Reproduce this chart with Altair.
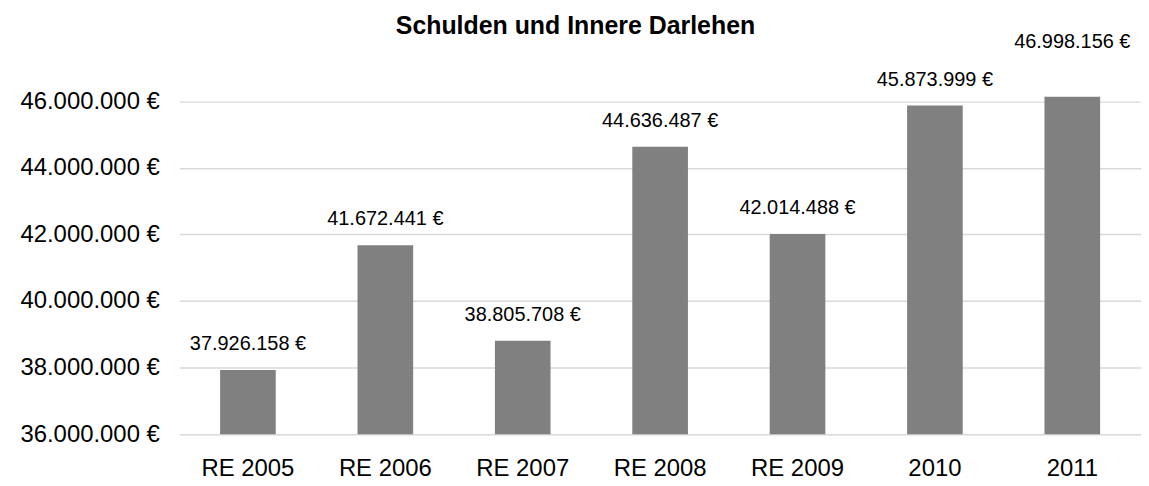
import altair as alt
import pandas as pd

categories = ["RE 2005", "RE 2006", "RE 2007", "RE 2008", "RE 2009", "2010", "2011"]
values = [37926158, 41672441, 38805708, 44636487, 42014488, 45873999, 46998156]
y_ticks = [36000000, 38000000, 40000000, 42000000, 44000000, 46000000]

df = pd.DataFrame({"cat": categories, "val": values})

FONT = "Liberation Sans"

x = alt.X("cat:N", sort=categories, title=None,
          scale=alt.Scale(paddingInner=0.595, paddingOuter=0.2975),
          axis=alt.Axis(labelAngle=0, ticks=False, domain=False, labelFontSize=24,
                        labelFont=FONT, labelColor="#000000", labelPadding=23))
y = alt.Y("val:Q", title=None,
          scale=alt.Scale(domain=[36000000, 46140000], nice=False, zero=False),
          axis=alt.Axis(values=y_ticks, ticks=False, domain=False, labelFontSize=24,
                        labelFont=FONT, labelColor="#000000", labelPadding=20,
                        gridColor="#d9d9d9", gridWidth=1.5,
                        labelExpr="replace(replace(format(datum.value, ',.0f'), ',', '.'), ',', '.') + ' €'"))

bars = alt.Chart(df).mark_bar(color="#808080", clip=True).encode(x=x, y=y)

labels = alt.Chart(df).transform_calculate(
    lab="replace(replace(format(datum.val, ',.0f'), ',', '.'), ',', '.') + ' €'"
).mark_text(fontSize=20, font=FONT, color="#000000", baseline="middle", dy=-26, clip=False).encode(
    x=alt.X("cat:N", sort=categories), y=alt.Y("val:Q"), text="lab:N")

chart = alt.layer(bars, labels).properties(
    width=966, height=339,
    padding={"left": 172, "top": 88, "right": 0, "bottom": 45},
    autosize=alt.AutoSizeParams(type="none"),
    title=alt.TitleParams("Schulden und Innere Darlehen", font=FONT, fontSize=25,
                          fontWeight="bold", color="#000000", anchor="middle",
                          dx=-85, dy=7, offset=0)
).configure_view(stroke=None)

chart.save("out.html", embed_options={"renderer": "svg", "actions": False})
